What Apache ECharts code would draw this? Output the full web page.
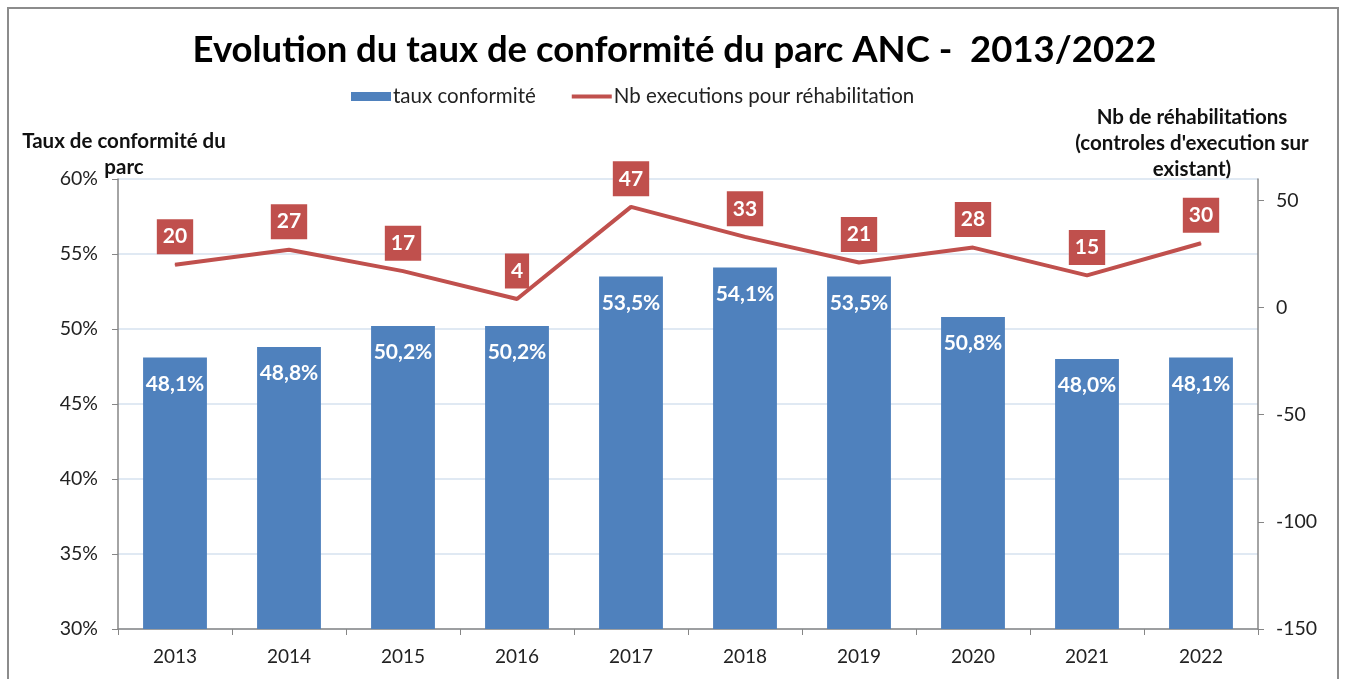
<!DOCTYPE html>
<html>
<head>
<meta charset="utf-8">
<script src="https://cdn.jsdelivr.net/npm/echarts@6/dist/echarts.min.js"></script>
<style>
  html, body { margin: 0; padding: 0; background: #fff; }
  #frame { position: absolute; left: 7px; top: 7px; width: 1332px; height: 700px; border: 2px solid #8c8c8c; box-sizing: border-box; }
  #chart { position: absolute; left: 0; top: 0; width: 1349px; height: 679px; }
</style>
</head>
<body>
<div id="frame"></div>
<div id="chart"></div>
<script>
// chart data
var years = ['2013', '2014', '2015', '2016', '2017', '2018', '2019', '2020', '2021', '2022'];
var tauxConformite = [48.1, 48.8, 50.2, 50.2, 53.5, 54.1, 53.5, 50.8, 48.0, 48.1];
var nbExecutions = [20, 27, 17, 4, 47, 33, 21, 28, 15, 30];

var blue = '#4f81bd';
var red = '#c0504d';
var font = 'Lato, "Open Sans", sans-serif';

var myChart = echarts.init(document.getElementById('chart'));

var option = {
    animation: false,
    textStyle: { fontFamily: font },
    title: {
        text: 'Evolution du taux de conformité du parc ANC -  2013/2022',
        left: 'center',
        top: 27,
        textStyle: { fontSize: 36.5, fontWeight: 'bold', color: '#000', fontFamily: font }
    },
    legend: {
        top: 81,
        left: 346,
        itemGap: 36,
        itemWidth: 40,
        itemHeight: 9,
        textStyle: { fontSize: 20.5, color: '#222', padding: [0, 0, 0, -3] },
        data: [
            { name: 'taux conformité', icon: 'rect' },
            { name: 'Nb executions pour réhabilitation', icon: 'path://M0,0 L40,0 L40,4 L0,4 Z' }
        ]
    },
    graphic: [
        {
            type: 'text', x: 124, y: 128,
            style: { text: 'Taux de conformité du\nparc', font: 'bold 20.5px ' + font, fill: '#111', lineHeight: 26, align: 'center' }
        },
        {
            type: 'text', x: 1192, y: 104,
            style: { text: 'Nb de réhabilitations\n(controles d\'execution sur\nexistant)', font: 'bold 20.5px ' + font, fill: '#111', lineHeight: 26, align: 'center' }
        }
    ],
    grid: { left: 118, right: 91, top: 179, bottom: 50 },
    xAxis: {
        type: 'category',
        data: years,
        axisLine: { onZero: false, lineStyle: { color: '#868686', width: 1.5 } },
        axisTick: { show: true, length: 6, lineStyle: { color: '#868686' } },
        axisLabel: { fontSize: 19, color: '#222', margin: 18 }
    },
    yAxis: [
        {
            type: 'value',
            min: 30, max: 60, interval: 5,
            axisLine: { show: true, lineStyle: { color: '#868686', width: 1.5 } },
            axisTick: { show: true, length: 6, lineStyle: { color: '#868686' } },
            axisLabel: { fontSize: 19.5, color: '#222', margin: 20, formatter: '{value}%' },
            splitLine: { lineStyle: { color: '#d6e2ef', width: 1.5 } }
        },
        {
            type: 'value',
            min: -150, max: 60, interval: 50,
            axisLine: { show: true, lineStyle: { color: '#868686', width: 1.5 } },
            axisTick: { show: true, length: 6, lineStyle: { color: '#868686' } },
            axisLabel: { fontSize: 19.5, color: '#222', margin: 18, showMaxLabel: false },
            splitLine: { show: false }
        }
    ],
    series: [
        {
            name: 'taux conformité',
            type: 'bar',
            yAxisIndex: 0,
            barWidth: '56%',
            itemStyle: { color: blue },
            label: {
                show: true,
                position: 'insideTop',
                distance: 16,
                color: '#fff',
                fontSize: 21,
                fontWeight: 'bold',
                formatter: function (p) { return p.value.toFixed(1).replace('.', ',') + '%'; }
            },
            data: tauxConformite
        },
        {
            name: 'Nb executions pour réhabilitation',
            type: 'line',
            yAxisIndex: 1,
            symbol: 'circle',
            symbolSize: 1,
            lineStyle: { color: red, width: 4 },
            itemStyle: { color: red },
            label: {
                show: true,
                position: 'top',
                distance: 10,
                color: '#fff',
                fontSize: 21,
                fontWeight: 'bold',
                backgroundColor: red,
                padding: [7, 6, 7, 6]
            },
            data: nbExecutions
        }
    ]
};

myChart.setOption(option);
</script>
</body>
</html>
